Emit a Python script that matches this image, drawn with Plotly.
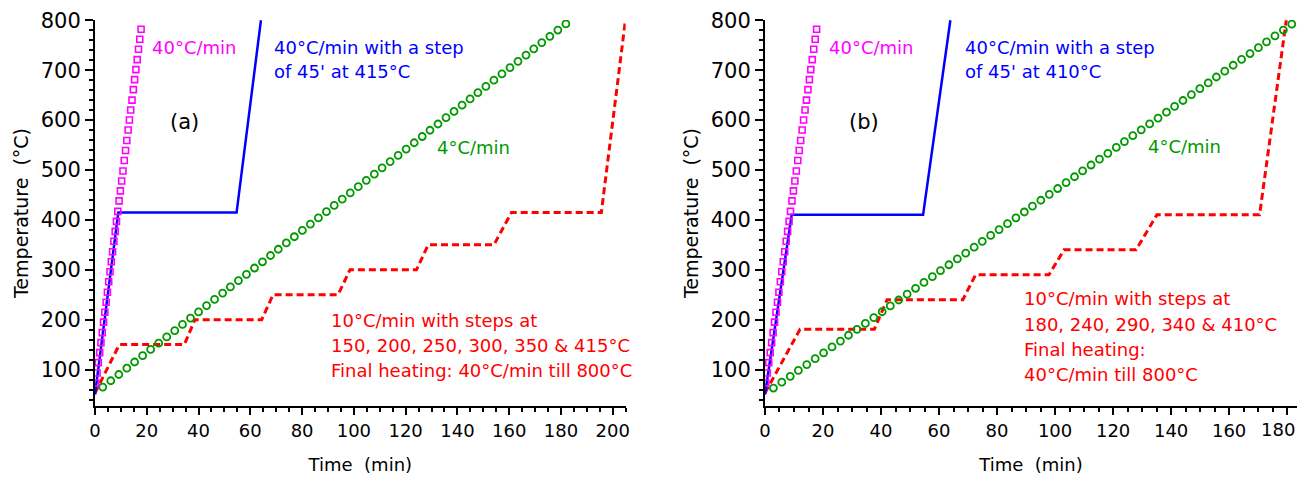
import plotly.graph_objects as go

# ---------------- data ----------------
# 40 °C/min (magenta squares) - same for both panels
mag_t = [0.3, 0.8, 1.3, 1.8, 2.3, 2.8, 3.3, 3.8, 4.3, 4.8, 5.3, 5.8, 6.3, 6.8, 7.3, 7.8, 8.3, 8.8,
         9.3, 9.8, 10.3, 10.8, 11.3, 11.8, 12.3, 12.8, 13.3, 13.8, 14.3, 14.8, 15.3, 15.8, 16.3, 16.8,
         17.3, 17.8]
mag_T = [73, 93, 114, 134, 154, 174, 195, 215, 235, 255, 276, 296, 316, 336, 357, 377, 397, 417,
         438, 458, 478, 498, 519, 539, 559, 580, 600, 620, 640, 661, 681, 701, 721, 742, 762, 782]

# 40 °C/min with a 45' step (blue)
blue_a_t = [0, 9.0, 54.7, 64.1]
blue_a_T = [50, 415, 415, 800]
blue_b_t = [0, 9.2, 54.5, 63.9]
blue_b_T = [50, 410, 410, 800]

# 4 °C/min (green circles)
green_a_t = [3.0, 6.1, 9.2, 12.3, 15.3, 18.4, 21.5, 24.6, 27.7, 30.8, 33.8, 36.9, 40.0, 43.1, 46.2,
             49.3, 52.3, 55.4, 58.5, 61.6, 64.7, 67.8, 70.8, 73.9, 77.0, 80.1, 83.2, 86.3, 89.4,
             92.4, 95.5, 98.6, 101.7, 104.8, 107.9, 110.9, 114.0, 117.1, 120.2, 123.3, 126.4,
             129.4, 132.5, 135.6, 138.7, 141.8, 144.9, 147.9, 151.0, 154.1, 157.2, 160.3, 163.4,
             166.5, 169.5, 172.6, 175.7, 178.8, 181.9]
green_a_T = [65.0, 77.6, 90.1, 102.7, 115.2, 127.8, 140.3, 152.9, 165.4, 178.0, 190.5, 203.1, 215.6,
             228.2, 240.7, 253.3, 265.8, 278.4, 290.9, 303.5, 316.0, 328.6, 341.1, 353.7, 366.2,
             378.8, 391.3, 403.9, 416.4, 429.0, 441.5, 454.1, 466.6, 479.2, 491.7, 504.3, 516.8,
             529.4, 541.9, 554.5, 567.0, 579.6, 592.1, 604.7, 617.2, 629.8, 642.3, 654.9, 667.4,
             680.0, 692.5, 705.1, 717.6, 730.2, 742.7, 755.3, 767.8, 780.4, 792.9]
green_b_t = [2.9, 5.8, 8.7, 11.5, 14.4, 17.3, 20.2, 23.1, 26.0, 28.8, 31.7, 34.6, 37.5, 40.4, 43.2,
             46.1, 49.0, 51.9, 54.8, 57.7, 60.5, 63.4, 66.3, 69.2, 72.1, 74.9, 77.8, 80.7, 83.6,
             86.5, 89.4, 92.2, 95.1, 98.0, 100.9, 103.8, 106.7, 109.5, 112.4, 115.3, 118.2, 121.1,
             123.9, 126.8, 129.7, 132.6, 135.5, 138.4, 141.2, 144.1, 147.0, 149.9, 152.8, 155.6,
             158.5, 161.4, 164.3, 167.2, 170.1, 172.9, 175.8, 178.7, 181.6]
green_b_T = [63.0, 74.8, 86.5, 98.3, 110.0, 121.8, 133.6, 145.3, 157.1, 168.8, 180.6, 192.4, 204.1,
             215.9, 227.6, 239.4, 251.2, 262.9, 274.7, 286.4, 298.2, 310.0, 321.7, 333.5, 345.2,
             357.0, 368.8, 380.5, 392.3, 404.0, 415.8, 427.6, 439.3, 451.1, 462.8, 474.6, 486.4,
             498.1, 509.9, 521.6, 533.4, 545.2, 556.9, 568.7, 580.4, 592.2, 604.0, 615.7, 627.5,
             639.2, 651.0, 662.8, 674.5, 686.3, 698.0, 709.8, 721.6, 733.3, 745.1, 756.8, 768.6,
             780.4, 792.1]

# 10 °C/min with steps (red dashed)
red_a_t = [0, 9.4, 34.5, 38.6, 64.4, 68.8, 93.9, 98.5, 124.2, 128.7, 154.1, 160.9, 195.6, 204.9]
red_a_T = [53, 150, 150, 200, 200, 250, 250, 300, 300, 350, 350, 415, 415, 800]
red_b_t = [0, 12.1, 37.7, 42.1, 68.2, 72.6, 97.9, 103.1, 127.9, 135.1, 170.5, 179.7]
red_b_T = [53, 181, 181, 240, 240, 290, 290, 340, 340, 410, 410, 800]

x_ticks_a = [0, 20, 40, 60, 80, 100, 120, 140, 160, 180, 200]
x_ticks_b = [0, 20, 40, 60, 80, 100, 120, 140, 160, 180]
y_ticks = [100, 200, 300, 400, 500, 600, 700, 800]

# ---------------- styling ----------------
FONT = "DejaVu Sans"
FS = 18
MAG = "#FF00FF"
BLUE = "#0000FF"
GREEN = "#009900"
RED = "#FF0000"

fig = go.Figure()

def add_panel(xa, ya, blue_t, blue_T, green_t, green_T, red_t, red_T):
    fig.add_trace(go.Scatter(x=red_t, y=red_T, mode="lines", xaxis=xa, yaxis=ya,
                             line=dict(color=RED, width=3, dash="7px,4px"), showlegend=False))
    fig.add_trace(go.Scatter(x=green_t, y=green_T, mode="markers", xaxis=xa, yaxis=ya,
                             marker=dict(symbol="circle-open", size=7, color=GREEN,
                                         line=dict(width=1.8, color=GREEN)), showlegend=False))
    fig.add_trace(go.Scatter(x=blue_t, y=blue_T, mode="lines", xaxis=xa, yaxis=ya,
                             line=dict(color=BLUE, width=2.5), showlegend=False))
    fig.add_trace(go.Scatter(x=mag_t, y=mag_T, mode="markers", xaxis=xa, yaxis=ya,
                             marker=dict(symbol="square-open", size=6, color=MAG,
                                         line=dict(width=1.6, color=MAG)), showlegend=False))

add_panel("x", "y", blue_a_t, blue_a_T, green_a_t, green_a_T, red_a_t, red_a_T)
add_panel("x2", "y2", blue_b_t, blue_b_T, green_b_t, green_b_T, red_b_t, red_b_T)

def xaxis_cfg(domain, rng, ticks, labels, anchor):
    return dict(domain=domain, range=rng, anchor=anchor, tickvals=ticks, ticktext=labels,
                automargin=False,
                showline=True, linecolor="black", linewidth=2, mirror=False,
                ticks="outside", ticklen=7, tickwidth=2, tickcolor="black",
                minor=dict(dtick=5, tick0=0, ticks="outside", ticklen=4, tickwidth=1.5, tickcolor="black"),
                showgrid=False, zeroline=False,
                tickfont=dict(family=FONT, size=FS, color="black"),
                title=dict(text="Time\u00a0 (min)", font=dict(family=FONT, size=FS, color="black"), standoff=19))

def yaxis_cfg(anchor):
    return dict(domain=[0, 1], range=[27, 800.5], anchor=anchor, tickvals=y_ticks,
                automargin=False,
                showline=True, linecolor="black", linewidth=2, mirror=False,
                ticks="outside", ticklen=8, tickwidth=2, tickcolor="black",
                minor=dict(dtick=20, tick0=0, ticks="outside", ticklen=4, tickwidth=1.5, tickcolor="black"),
                showgrid=False, zeroline=False,
                tickfont=dict(family=FONT, size=21, color="black"),
                title=dict(text="Temperature\u00a0 (°C)", font=dict(family=FONT, size=19, color="black"), standoff=7))

labels_a = [str(v) for v in x_ticks_a]
labels_b = [str(v) for v in x_ticks_b[:-1]] + [""]   # last label drawn as annotation so it fits

fig.update_layout(
    width=1301, height=481,
    margin=dict(l=95, r=4, t=20, b=75, autoexpand=False),
    paper_bgcolor="white", plot_bgcolor="white",
    font=dict(family=FONT, size=FS, color="black"),
    xaxis=xaxis_cfg([0, 0.4415], [0, 205], x_ticks_a, labels_a, "y"),
    yaxis=yaxis_cfg("x"),
    xaxis2=xaxis_cfg([0.5574, 1], [0, 183.4], x_ticks_b, labels_b, "y2"),
    yaxis2=yaxis_cfg("x2"),
    showlegend=False,
)

def ann(xr, yr, x, y, text, color, size=FS):
    fig.add_annotation(x=x, y=y, xref=xr, yref=yr, text=text, showarrow=False,
                       xanchor="left", yanchor="middle",
                       font=dict(family=FONT, size=size, color=color))

# panel (a)
ann("x", "y", 21.2, 746, "40°C/min", MAG)
ann("x", "y", 68.3, 746, "40°C/min with a step", BLUE)
ann("x", "y", 68.3, 697, "of 45' at 415°C", BLUE)
ann("x", "y", 28.2, 597, "(a)", "black", 21)
ann("x", "y", 131.3, 546, "4°C/min", GREEN)
ann("x", "y", 90.3, 198, "10°C/min with steps at", RED)
ann("x", "y", 90.3, 148, "150, 200, 250, 300, 350 &amp; 415°C", RED)
ann("x", "y", 90.3, 98, "Final heating: 40°C/min till 800°C", RED)

# panel (b)
ann("x2", "y2", 21.3, 745, "40°C/min", MAG)
ann("x2", "y2", 68.3, 746, "40°C/min with a step", BLUE)
ann("x2", "y2", 68.3, 697, "of 45' at 410°C", BLUE)
ann("x2", "y2", 28.2, 597, "(b)", "black", 21)
ann("x2", "y2", 131.3, 547, "4°C/min", GREEN)
ann("x2", "y2", 88.5, 242, "10°C/min with steps at", RED)
ann("x2", "y2", 88.5, 190, "180, 240, 290, 340 &amp; 410°C", RED)
ann("x2", "y2", 88.5, 141, "Final heating:", RED)
ann("x2", "y2", 88.5, 91, "40°C/min till 800°C", RED)

# last x tick label of panel (b), kept inside the figure
fig.add_annotation(x=1, y=-0.061, xref="paper", yref="paper", text=str(x_ticks_b[-1]),
                   showarrow=False, xanchor="right", yanchor="middle",
                   font=dict(family=FONT, size=FS, color="black"))

fig.write_html("out.html", config={"displayModeBar": False},
               post_script="document.body.style.margin='0';document.body.style.overflow='hidden';")
